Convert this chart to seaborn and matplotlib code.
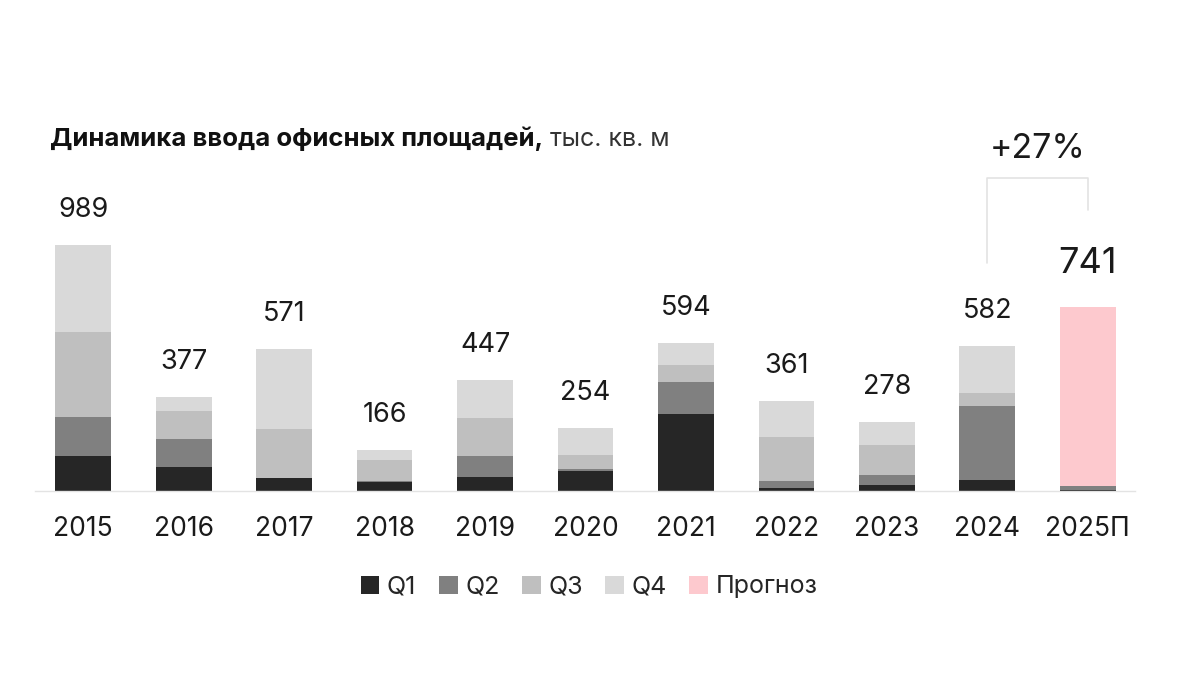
import numpy as np
import pandas as pd
import seaborn as sns
import matplotlib.pyplot as plt
from matplotlib.patches import Patch

# data, thousand sq. m
years = ["2015", "2016", "2017", "2018", "2019", "2020", "2021", "2022", "2023", "2024", "2025П"]
q1 = [142, 98, 51, 37, 55, 79, 308, 12, 25, 43, 5]
q2 = [156, 110, 0, 2, 87, 9, 129, 27, 38, 298, 14]
q3 = [340, 115, 197, 87, 152, 55, 70, 177, 121, 52, 0]
q4 = [351, 54, 323, 40, 153, 111, 87, 145, 94, 189, 0]
forecast = [0, 0, 0, 0, 0, 0, 0, 0, 0, 0, 722]
totals = [989, 377, 571, 166, 447, 254, 594, 361, 278, 582, 741]
growth_label = "+27%"

colors = {"Q1": "#262626", "Q2": "#808080", "Q3": "#bfbfbf", "Q4": "#d9d9d9", "Прогноз": "#fdc9ce"}

df = pd.DataFrame({"year": years, "Q1": q1, "Q2": q2, "Q3": q3, "Q4": q4, "Прогноз": forecast})
df["c1"] = df["Q1"]
df["c2"] = df["c1"] + df["Q2"]
df["c3"] = df["c2"] + df["Q3"]
df["c4"] = df["c3"] + df["Q4"]
df["c5"] = df["c4"] + df["Прогноз"]

sns.set_style("white")
plt.rcParams["font.family"] = ["Inter", "DejaVu Sans"]

fig = plt.figure(figsize=(12, 6.75), dpi=100)
ax = fig.add_axes([35 / 1200, 1 - 491 / 675, 1100 / 1200, 391 / 675])

bw = 0.555
# stacked by overdrawing cumulative sums, top layer first
sns.barplot(data=df[df["Прогноз"] > 0], x="year", y="c5", order=years, color=colors["Прогноз"],
            width=bw, saturation=1, errorbar=None, linewidth=0, ax=ax)
for col, name in [("c4", "Q4"), ("c3", "Q3"), ("c2", "Q2"), ("c1", "Q1")]:
    sub = df[df[col] > 0]
    sns.barplot(data=sub, x="year", y=col, order=years, color=colors[name],
                width=bw, saturation=1, errorbar=None, linewidth=0, ax=ax)

ax.set_xlim(-0.48, 10.47)
ax.set_ylim(0, 1572)
ax.set_xlabel("")
ax.set_ylabel("")
ax.set_yticks([])
ax.tick_params(axis="x", length=0, pad=18, labelsize=19, labelcolor="#1a1a1a")
for s in ["top", "right", "left"]:
    ax.spines[s].set_visible(False)
ax.spines["bottom"].set_color("#e3e3e3")
ax.spines["bottom"].set_linewidth(1)

# value labels
for i, t in enumerate(totals):
    if years[i] == "2025П":
        ax.text(i, t + 175, str(t), ha="center", va="center", fontsize=26, color="#1a1a1a")
    else:
        ax.text(i, t + 141, str(t), ha="center", va="center", fontsize=19.5, color="#1a1a1a")

# growth bracket between 2024 and 2025П
i0, i1 = len(years) - 2, len(years) - 1
top_y = 1258
ax.plot([i0, i0, i1, i1], [totals[i0] + 335, top_y, top_y, totals[i1] + 389],
        color="#e3e3e3", lw=1.2, clip_on=False)
ax.text((i0 + i1) / 2, top_y + 118, growth_label, ha="center", va="center",
        fontsize=24.5, color="#1a1a1a")

# title
t1 = fig.text(50 / 1200, 1 - 139 / 675, "Динамика ввода офисных площадей,", fontsize=18.5,
              fontweight="bold", color="#111111", va="center", ha="left")
ax.annotate(" тыс. кв. м", xy=(1, 0.5), xycoords=t1, va="center", ha="left",
            fontsize=18, color="#333333")

# legend
handles = [Patch(facecolor=colors[k], edgecolor="none", label=k) for k in ["Q1", "Q2", "Q3", "Q4", "Прогноз"]]
fig.legend(handles=handles, loc="center", bbox_to_anchor=(0.491, 1 - 587 / 675), ncol=5,
           frameon=False, fontsize=18, handlelength=0.75, handleheight=0.75,
           handletextpad=0.3, columnspacing=0.9)

fig.savefig("out.png", dpi=100)
